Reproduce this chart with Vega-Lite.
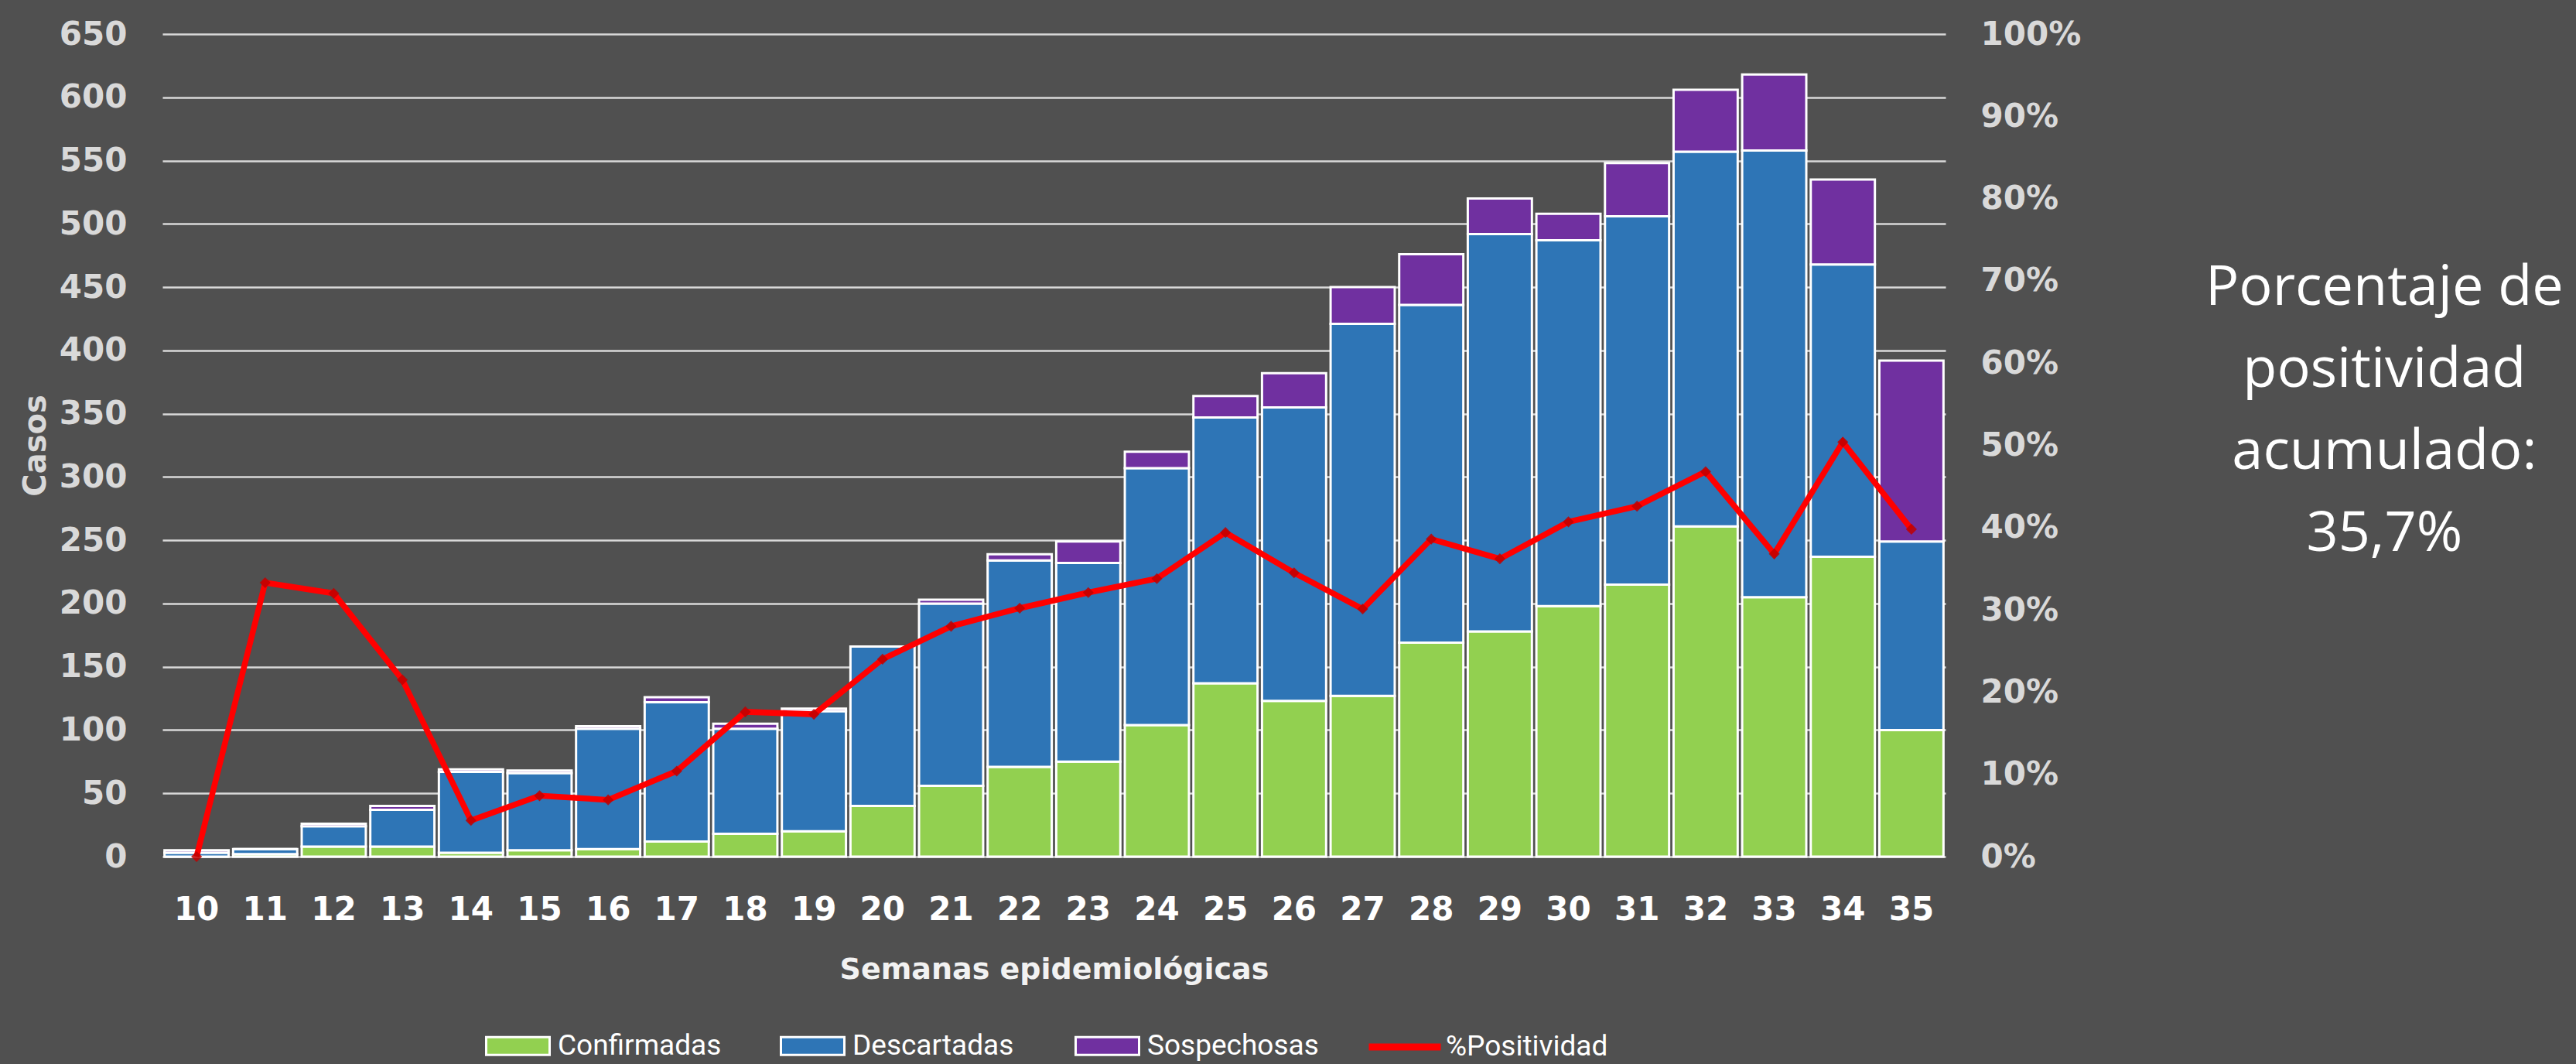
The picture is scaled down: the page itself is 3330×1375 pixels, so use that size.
{
  "$schema": "https://vega.github.io/schema/vega-lite/v6.json",
  "width": 2305,
  "height": 1063,
  "autosize": {"type": "none"},
  "padding": {"left": 210, "top": 44, "right": 815, "bottom": 268},
  "background": "#505050",
  "config": {
    "view": {"stroke": null},
    "font": "DejaVu Sans"
  },
  "title": {
    "text": ["Porcentaje de", "positividad", "acumulado:", "35,7%"],
    "orient": "right",
    "angle": 0,
    "align": "center",
    "baseline": "middle",
    "anchor": "middle",
    "frame": "group",
    "offset": -70,
    "dy": -204,
    "font": "Open Sans",
    "fontSize": 72,
    "fontWeight": "normal",
    "color": "#ffffff",
    "lineHeight": 106
  },
  "data": {
    "values": [
      {"semana": 10, "Confirmadas": 0, "Descartadas": 3, "Sospechosas": 2, "Positividad": 0.0},
      {"semana": 11, "Confirmadas": 2, "Descartadas": 4, "Sospechosas": 0, "Positividad": 0.333},
      {"semana": 12, "Confirmadas": 8, "Descartadas": 16, "Sospechosas": 2, "Positividad": 0.32},
      {"semana": 13, "Confirmadas": 8, "Descartadas": 29, "Sospechosas": 3, "Positividad": 0.215},
      {"semana": 14, "Confirmadas": 3, "Descartadas": 64, "Sospechosas": 2, "Positividad": 0.044},
      {"semana": 15, "Confirmadas": 5, "Descartadas": 61, "Sospechosas": 2, "Positividad": 0.074},
      {"semana": 16, "Confirmadas": 6, "Descartadas": 95, "Sospechosas": 2, "Positividad": 0.069},
      {"semana": 17, "Confirmadas": 12, "Descartadas": 110, "Sospechosas": 4, "Positividad": 0.104},
      {"semana": 18, "Confirmadas": 18, "Descartadas": 83, "Sospechosas": 4, "Positividad": 0.176},
      {"semana": 19, "Confirmadas": 20, "Descartadas": 95, "Sospechosas": 2, "Positividad": 0.173},
      {"semana": 20, "Confirmadas": 40, "Descartadas": 126, "Sospechosas": 0, "Positividad": 0.24},
      {"semana": 21, "Confirmadas": 56, "Descartadas": 144, "Sospechosas": 3, "Positividad": 0.28},
      {"semana": 22, "Confirmadas": 71, "Descartadas": 163, "Sospechosas": 5, "Positividad": 0.302},
      {"semana": 23, "Confirmadas": 75, "Descartadas": 157, "Sospechosas": 17, "Positividad": 0.321},
      {"semana": 24, "Confirmadas": 104, "Descartadas": 203, "Sospechosas": 13, "Positividad": 0.338},
      {"semana": 25, "Confirmadas": 137, "Descartadas": 210, "Sospechosas": 17, "Positividad": 0.394},
      {"semana": 26, "Confirmadas": 123, "Descartadas": 232, "Sospechosas": 27, "Positividad": 0.345},
      {"semana": 27, "Confirmadas": 127, "Descartadas": 294, "Sospechosas": 29, "Positividad": 0.301},
      {"semana": 28, "Confirmadas": 169, "Descartadas": 267, "Sospechosas": 40, "Positividad": 0.386},
      {"semana": 29, "Confirmadas": 178, "Descartadas": 314, "Sospechosas": 28, "Positividad": 0.362},
      {"semana": 30, "Confirmadas": 198, "Descartadas": 289, "Sospechosas": 21, "Positividad": 0.407},
      {"semana": 31, "Confirmadas": 215, "Descartadas": 291, "Sospechosas": 42, "Positividad": 0.426},
      {"semana": 32, "Confirmadas": 261, "Descartadas": 296, "Sospechosas": 49, "Positividad": 0.468},
      {"semana": 33, "Confirmadas": 205, "Descartadas": 353, "Sospechosas": 60, "Positividad": 0.368},
      {"semana": 34, "Confirmadas": 237, "Descartadas": 231, "Sospechosas": 67, "Positividad": 0.504},
      {"semana": 35, "Confirmadas": 100, "Descartadas": 149, "Sospechosas": 143, "Positividad": 0.398}
    ]
  },
  "encoding": {
    "x": {
      "field": "semana",
      "type": "ordinal",
      "scale": {"paddingInner": 0.065, "paddingOuter": 0.03},
      "axis": {
        "title": "Semanas epidemiológicas",
        "labelAngle": 0,
        "labelFont": "DejaVu Sans",
        "labelFontWeight": "bold",
        "labelFontSize": 42,
        "labelColor": "#ffffff",
        "labelPadding": 48,
        "ticks": false,
        "tickSize": 0,
        "domain": false,
        "grid": false,
        "titleFont": "DejaVu Sans",
        "titleFontSize": 38,
        "titleFontWeight": "bold",
        "titleColor": "#f2f2f2",
        "titlePadding": 38
      }
    }
  },
  "layer": [
    {
      "transform": [{"fold": ["Confirmadas", "Descartadas", "Sospechosas"], "as": ["serie", "valor"]}],
      "mark": {"type": "bar", "stroke": "#ffffff", "strokeWidth": 3},
      "encoding": {
        "y": {
          "field": "valor",
          "type": "quantitative",
          "stack": "zero",
          "scale": {"domain": [0, 650], "nice": false},
          "axis": {
            "orient": "left",
            "title": "Casos",
            "values": [0, 50, 100, 150, 200, 250, 300, 350, 400, 450, 500, 550, 600, 650],
            "labelFont": "DejaVu Sans",
            "labelFontWeight": "bold",
            "labelFontSize": 42,
            "labelColor": "#d9d9d9",
            "labelPadding": 46,
            "ticks": false,
            "tickSize": 0,
            "domain": false,
            "grid": true,
            "gridColor": "#d9d9d9",
            "gridWidth": 2.5,
            "titleFont": "DejaVu Sans",
            "titleFontSize": 40,
            "titleFontWeight": "bold",
            "titleColor": "#d9d9d9",
            "titlePadding": 10
          }
        },
        "order": {"field": "serie", "sort": "ascending"},
        "color": {
          "field": "serie",
          "type": "nominal",
          "scale": {
            "domain": ["Confirmadas", "Descartadas", "Sospechosas"],
            "range": ["#92d050", "#2e75b6", "#7030a0"]
          },
          "legend": {
            "title": null,
            "orient": "none",
            "legendX": 417,
            "legendY": 1265,
            "direction": "horizontal",
            "gridAlign": "all",
            "columnPadding": 60,
            "padding": 0,
            "symbolType": "M-1,-0.28H1V0.28H-1Z",
            "symbolSize": 6724,
            "symbolStrokeWidth": 3,
            "symbolStrokeColor": "#ffffff",
            "symbolOpacity": 1,
            "labelFont": "Roboto",
            "labelFontSize": 37,
            "labelColor": "#ffffff",
            "labelOffset": 9,
            "labelLimit": 0
          }
        }
      }
    },
    {
      "layer": [
        {
          "mark": {"type": "line", "strokeWidth": 7.5},
          "encoding": {
            "y": {
              "field": "Positividad",
              "type": "quantitative",
              "scale": {"domain": [0, 1], "nice": false},
              "axis": {
                "orient": "right",
                "title": null,
                "values": [0, 0.1, 0.2, 0.3, 0.4, 0.5, 0.6, 0.7, 0.8, 0.9, 1],
                "format": ".0%",
                "labelFont": "DejaVu Sans",
                "labelFontWeight": "bold",
                "labelFontSize": 42,
                "labelColor": "#d9d9d9",
                "labelPadding": 45,
                "ticks": false,
                "tickSize": 0,
                "domain": false,
                "grid": false
              }
            },
            "stroke": {
              "datum": "%Positividad",
              "type": "nominal",
              "scale": {"domain": ["%Positividad"], "range": ["#ff0000"]},
              "legend": {
                "title": null,
                "orient": "none",
                "legendX": 1555,
                "legendY": 1258,
                "padding": 0,
                "symbolType": "stroke",
                "symbolSize": 8649,
                "symbolStrokeWidth": 9,
                "labelFont": "Roboto",
                "labelFontSize": 37,
                "labelColor": "#ffffff",
                "labelOffset": 2,
                "labelLimit": 0
              }
            }
          }
        },
        {
          "mark": {"type": "point", "shape": "diamond", "filled": true, "color": "#c00000", "size": 200, "opacity": 0.85},
          "encoding": {
            "y": {"field": "Positividad", "type": "quantitative"}
          }
        }
      ]
    }
  ],
  "resolve": {"scale": {"y": "independent"}, "axis": {"y": "independent"}}
}
